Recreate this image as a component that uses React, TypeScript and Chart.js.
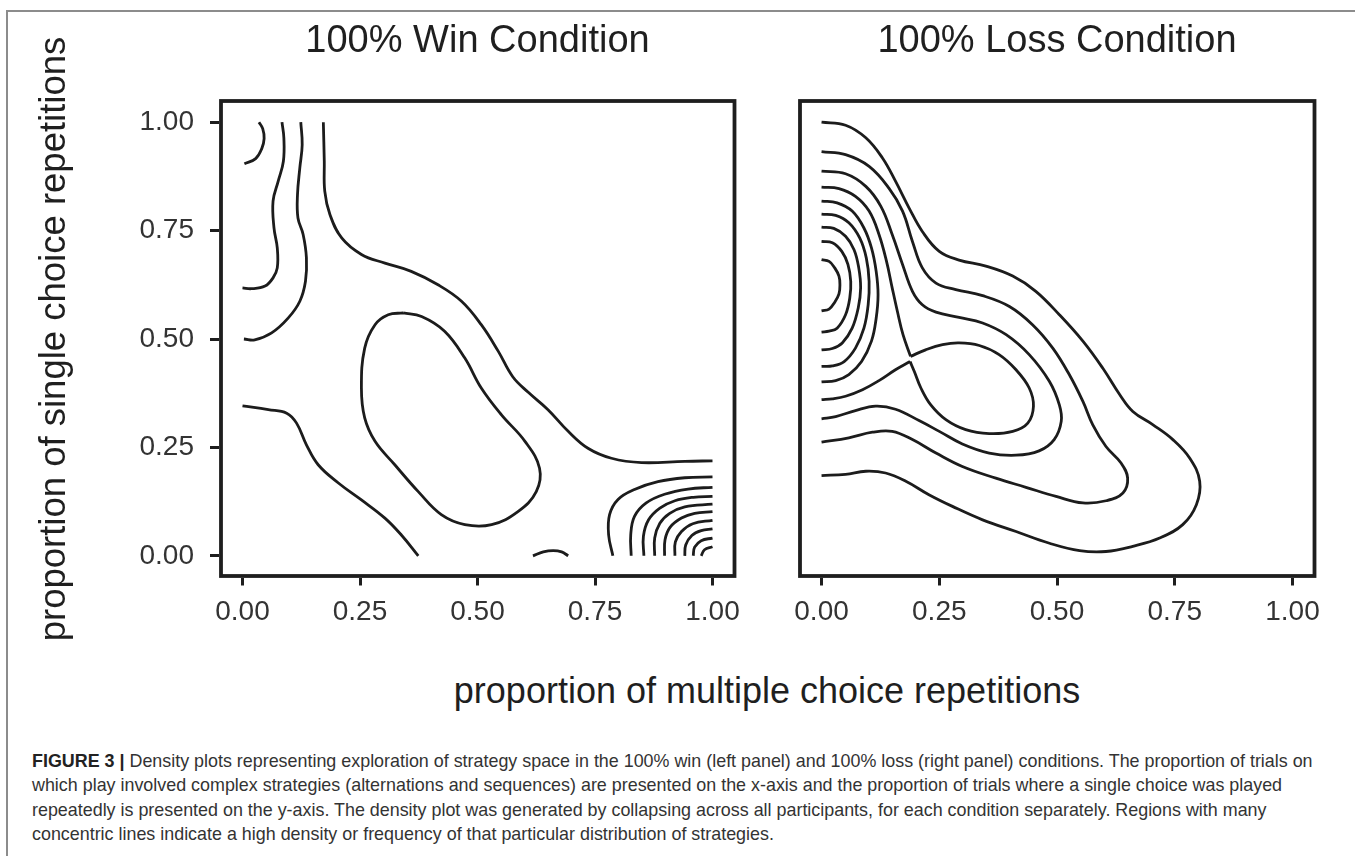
import React, { useEffect, useRef } from 'react';
import { Chart, registerables } from 'chart.js';

Chart.register(...registerables);

type Pt = [number, number];

const FONT = "'Liberation Sans', Arial, Helvetica, sans-serif";
const LINE_COLOR = '#1c1c1c';
const TITLE_COLOR = '#1f1f1f';
const TICK_COLOR = '#333333';
const AXIS_COLOR = '#1e1e1e';

// ---- axis ticks / texts ----
const tickValues = [0, 0.25, 0.5, 0.75, 1];
const tickLabels = ['0.00', '0.25', '0.50', '0.75', '1.00'];
const panelTitles = ['100% Win Condition', '100% Loss Condition'];
const xAxisTitle = 'proportion of multiple choice repetitions';
const yAxisTitle = 'proportion of single choice repetitions';
const captionBold = 'FIGURE 3 | ';
const captionLines = [
  'Density plots representing exploration of strategy space in the 100% win (left panel) and 100% loss (right panel) conditions. The proportion of trials on',
  'which play involved complex strategies (alternations and sequences) are presented on the x-axis and the proportion of trials where a single choice was played',
  'repeatedly is presented on the y-axis. The density plot was generated by collapsing across all participants, for each condition separately. Regions with many',
  'concentric lines indicate a high density or frequency of that particular distribution of strategies.',
];

// ---- 100% Win condition contours (x, y) ----
const win1: Pt[] = [[0.035, 1.0], [0.043, 0.985], [0.046, 0.962], [0.041, 0.939], [0.028, 0.916], [0.004, 0.904]];
const win2: Pt[] = [[0.084, 1.0], [0.088, 0.964], [0.087, 0.91], [0.076, 0.864], [0.065, 0.818], [0.067, 0.756], [0.074, 0.71], [0.074, 0.664], [0.065, 0.641], [0.048, 0.622], [0.019, 0.616], [0.0, 0.618]];
const win3: Pt[] = [[0.124, 1.0], [0.127, 0.948], [0.122, 0.895], [0.117, 0.833], [0.118, 0.779], [0.129, 0.741], [0.136, 0.687], [0.134, 0.633], [0.122, 0.587], [0.097, 0.548], [0.062, 0.514], [0.026, 0.498], [0.003, 0.5]];
const win4: Pt[] = [[0.172, 1.0], [0.174, 0.91], [0.175, 0.841], [0.186, 0.787], [0.211, 0.733], [0.253, 0.695], [0.303, 0.675], [0.359, 0.656], [0.416, 0.625], [0.466, 0.587], [0.508, 0.533], [0.544, 0.472], [0.575, 0.413], [0.608, 0.377], [0.65, 0.337], [0.693, 0.287], [0.735, 0.248], [0.785, 0.225], [0.849, 0.215], [0.941, 0.218], [1.0, 0.219]];
const win5: Pt[] = [[0.0, 0.346], [0.055, 0.337], [0.094, 0.329], [0.115, 0.306], [0.136, 0.256], [0.161, 0.21], [0.204, 0.168], [0.253, 0.129], [0.303, 0.087], [0.338, 0.048], [0.374, 0.0]];
const win6: Pt[] = [[0.342, 0.56], [0.381, 0.552], [0.43, 0.518], [0.473, 0.456], [0.508, 0.387], [0.551, 0.325], [0.601, 0.264], [0.632, 0.202], [0.625, 0.148], [0.586, 0.102], [0.53, 0.072], [0.473, 0.072], [0.423, 0.095], [0.374, 0.148], [0.324, 0.21], [0.282, 0.264], [0.26, 0.318], [0.253, 0.387], [0.26, 0.479], [0.282, 0.533], [0.31, 0.556], [0.342, 0.56]];
const win7: Pt[] = [[0.618, 0.0], [0.64, 0.009], [0.661, 0.012], [0.679, 0.009], [0.693, 0.0]];
const win8: Pt[] = [[0.788, 0.0], [0.779, 0.048], [0.781, 0.095], [0.799, 0.13], [0.834, 0.153], [0.884, 0.171], [0.941, 0.18], [1.0, 0.182]];
const win9: Pt[] = [[0.827, 0.0], [0.826, 0.048], [0.834, 0.091], [0.859, 0.122], [0.898, 0.142], [0.948, 0.154], [1.0, 0.158]];
const win10: Pt[] = [[0.854, 0.0], [0.853, 0.045], [0.864, 0.083], [0.888, 0.11], [0.92, 0.127], [0.959, 0.135], [1.0, 0.137]];
const win11: Pt[] = [[0.877, 0.0], [0.877, 0.041], [0.888, 0.075], [0.909, 0.098], [0.941, 0.113], [1.0, 0.119]];
const win12: Pt[] = [[0.898, 0.0], [0.899, 0.037], [0.91, 0.066], [0.934, 0.087], [0.962, 0.098], [1.0, 0.102]];
const win13: Pt[] = [[0.92, 0.0], [0.921, 0.032], [0.934, 0.056], [0.958, 0.074], [1.0, 0.082]];
const win14: Pt[] = [[0.941, 0.0], [0.943, 0.025], [0.956, 0.047], [0.976, 0.058], [1.0, 0.062]];
const win15: Pt[] = [[0.959, 0.0], [0.962, 0.02], [0.976, 0.035], [1.0, 0.041]];
const win16: Pt[] = [[0.976, 0.0], [0.983, 0.014], [1.0, 0.021]];

// ---- 100% Loss condition contours (x, y) ----
const loss1: Pt[] = [[0.0, 0.683], [0.016, 0.679], [0.028, 0.664], [0.037, 0.645], [0.039, 0.625], [0.037, 0.604], [0.028, 0.585], [0.016, 0.569], [0.0, 0.565]];
const loss2: Pt[] = [[0.0, 0.725], [0.023, 0.722], [0.043, 0.702], [0.056, 0.672], [0.062, 0.633], [0.06, 0.595], [0.051, 0.556], [0.033, 0.525], [0.016, 0.518], [0.0, 0.516]];
const loss3: Pt[] = [[0.0, 0.758], [0.026, 0.755], [0.051, 0.737], [0.069, 0.706], [0.079, 0.664], [0.083, 0.618], [0.078, 0.572], [0.065, 0.525], [0.044, 0.491], [0.023, 0.478], [0.0, 0.475]];
const loss4: Pt[] = [[0.0, 0.788], [0.03, 0.785], [0.058, 0.768], [0.081, 0.733], [0.095, 0.687], [0.101, 0.633], [0.099, 0.579], [0.09, 0.525], [0.072, 0.479], [0.048, 0.448], [0.023, 0.438], [0.0, 0.437]];
const loss5: Pt[] = [[0.0, 0.818], [0.033, 0.814], [0.065, 0.795], [0.09, 0.756], [0.106, 0.71], [0.116, 0.656], [0.12, 0.602], [0.116, 0.548], [0.106, 0.495], [0.085, 0.448], [0.058, 0.418], [0.03, 0.404], [0.0, 0.401]];
const loss6Upper: Pt[] = [[0.0, 0.85], [0.037, 0.847], [0.072, 0.829], [0.101, 0.795], [0.122, 0.741], [0.138, 0.679], [0.15, 0.618], [0.161, 0.564], [0.173, 0.51], [0.189, 0.46]];
const loss6Loop: Pt[] = [[0.189, 0.46], [0.221, 0.475], [0.257, 0.487], [0.292, 0.491], [0.335, 0.485], [0.377, 0.464], [0.413, 0.429], [0.441, 0.387], [0.45, 0.345], [0.438, 0.306], [0.406, 0.287], [0.356, 0.282], [0.306, 0.291], [0.264, 0.314], [0.232, 0.348], [0.211, 0.387], [0.197, 0.425], [0.188, 0.448]];
const loss6Lower: Pt[] = [[0.188, 0.448], [0.157, 0.429], [0.122, 0.404], [0.087, 0.383], [0.051, 0.368], [0.023, 0.362], [0.0, 0.36]];
const loss7: Pt[] = [[0.0, 0.887], [0.051, 0.881], [0.094, 0.852], [0.126, 0.806], [0.15, 0.741], [0.172, 0.672], [0.193, 0.61], [0.214, 0.579], [0.243, 0.562], [0.292, 0.55], [0.342, 0.537], [0.392, 0.51], [0.441, 0.464], [0.484, 0.402], [0.505, 0.348], [0.509, 0.31], [0.494, 0.268], [0.462, 0.242], [0.413, 0.232], [0.356, 0.237], [0.299, 0.258], [0.25, 0.287], [0.207, 0.312], [0.157, 0.338], [0.115, 0.345], [0.072, 0.335], [0.03, 0.321], [0.0, 0.316]];
const loss8: Pt[] = [[0.0, 0.932], [0.051, 0.925], [0.101, 0.898], [0.143, 0.848], [0.172, 0.795], [0.193, 0.725], [0.214, 0.664], [0.243, 0.629], [0.285, 0.614], [0.342, 0.6], [0.399, 0.575], [0.448, 0.533], [0.491, 0.479], [0.526, 0.418], [0.555, 0.356], [0.576, 0.302], [0.604, 0.252], [0.636, 0.214], [0.65, 0.179], [0.64, 0.145], [0.604, 0.127], [0.555, 0.122], [0.498, 0.137], [0.434, 0.158], [0.37, 0.179], [0.299, 0.206], [0.243, 0.237], [0.193, 0.268], [0.15, 0.287], [0.108, 0.285], [0.058, 0.272], [0.0, 0.262]];
const loss9: Pt[] = [[0.0, 1.0], [0.051, 0.993], [0.094, 0.964], [0.129, 0.918], [0.157, 0.864], [0.186, 0.802], [0.214, 0.748], [0.25, 0.702], [0.292, 0.682], [0.349, 0.668], [0.406, 0.645], [0.455, 0.61], [0.505, 0.556], [0.555, 0.495], [0.597, 0.433], [0.633, 0.372], [0.661, 0.333], [0.704, 0.302], [0.746, 0.268], [0.782, 0.225], [0.803, 0.172], [0.796, 0.118], [0.767, 0.072], [0.718, 0.041], [0.661, 0.022], [0.604, 0.01], [0.548, 0.012], [0.484, 0.029], [0.413, 0.056], [0.342, 0.083], [0.278, 0.114], [0.228, 0.141], [0.179, 0.172], [0.136, 0.191], [0.094, 0.195], [0.051, 0.188], [0.0, 0.185]];

const winContours: Pt[][] = [win1, win2, win3, win4, win5, win6, win7, win8, win9, win10, win11, win12, win13, win14, win15, win16];
const lossContours: Pt[][] = [loss1, loss2, loss3, loss4, loss5, loss6Upper, loss6Loop, loss6Lower, loss7, loss8, loss9];

const boxPlugin = {
  id: 'panelBox',
  afterDatasetsDraw(chart: any) {
    const { ctx, chartArea: a } = chart;
    ctx.save();
    ctx.lineWidth = 3.8;
    ctx.strokeStyle = AXIS_COLOR;
    ctx.strokeRect(a.left + 2, a.top + 0.5, a.right - a.left - 3.5, a.bottom - a.top - 2);
    ctx.restore();
  },
};

const setTicks = (s: any) => {
  s.ticks = tickValues.map((v) => ({ value: v }));
};
const labelFor = (v: any) => {
  const i = tickValues.indexOf(Number(v));
  return i >= 0 ? tickLabels[i] : '';
};

function makeConfig(contours: Pt[][], title: string, showY: boolean, padLeft: number): any {
  const tickGrid = {
    display: true,
    drawOnChartArea: false,
    drawTicks: true,
    tickLength: 8,
    tickWidth: 3,
    tickColor: AXIS_COLOR,
  };
  return {
    type: 'scatter',
    data: {
      datasets: contours.map((c) => ({
        data: c.map(([x, y]) => ({ x, y })),
        showLine: true,
        borderColor: LINE_COLOR,
        borderWidth: 2.8,
        pointRadius: 0,
        pointHoverRadius: 0,
        tension: 0.4,
        fill: false,
      })),
    },
    options: {
      responsive: false,
      animation: false,
      devicePixelRatio: 1,
      layout: { padding: { left: padLeft, right: 24, top: 0, bottom: 0 } },
      plugins: {
        legend: { display: false },
        tooltip: { enabled: false },
        title: {
          display: true,
          text: title,
          fullSize: false,
          color: TITLE_COLOR,
          font: { family: FONT, size: 38, weight: 'normal', lineHeight: 1.2 },
          padding: { top: 18.5, bottom: 36.4 },
        },
      },
      scales: {
        x: {
          type: 'linear',
          min: -0.05,
          max: 1.05,
          afterBuildTicks: setTicks,
          afterFit: (s: any) => {
            s.height = 82.5;
          },
          ticks: {
            callback: labelFor,
            font: { family: FONT, size: 28 },
            color: TICK_COLOR,
            padding: 10.2,
            maxRotation: 0,
            autoSkip: false,
          },
          grid: tickGrid,
          border: { display: false },
        },
        y: showY
          ? {
              type: 'linear',
              min: -0.05,
              max: 1.05,
              afterBuildTicks: setTicks,
              afterFit: (s: any) => {
                s.width = 219;
              },
              ticks: {
                callback: labelFor,
                font: { family: FONT, size: 28 },
                color: TICK_COLOR,
                padding: 16,
                autoSkip: false,
              },
              grid: { ...tickGrid, tickLength: 9 },
              border: { display: false },
              title: {
                display: true,
                text: yAxisTitle,
                color: TITLE_COLOR,
                font: { family: FONT, size: 36.5, lineHeight: 1.2 },
                padding: { top: 33, bottom: 0 },
              },
            }
          : { type: 'linear', min: -0.05, max: 1.05, display: false },
      },
    },
    plugins: [boxPlugin],
  };
}

function Panel(props: { contours: Pt[][]; title: string; showY: boolean; left: number; width: number; padLeft: number }) {
  const ref = useRef<HTMLCanvasElement>(null);
  useEffect(() => {
    const chart = new Chart(ref.current as HTMLCanvasElement, makeConfig(props.contours, props.title, props.showY, props.padLeft));
    return () => chart.destroy();
  }, []);
  return (
    <canvas
      ref={ref}
      width={props.width}
      height={660}
      style={{ position: 'absolute', left: props.left, top: 0, width: props.width, height: 660 }}
    />
  );
}

export default function App() {
  return (
    <div
      style={{
        position: 'fixed',
        left: 0,
        top: 0,
        width: 1355,
        height: 856,
        overflow: 'hidden',
        background: '#ffffff',
        fontFamily: FONT,
      }}
    >
      <div
        style={{
          position: 'absolute',
          left: 6,
          top: 10,
          width: 2000,
          height: 2000,
          borderTop: '2px solid #8c8c8c',
          borderLeft: '2px solid #8c8c8c',
        }}
      />
      <Panel contours={winContours} title={panelTitles[0]} showY={true} left={0} width={760} padLeft={0} />
      <Panel contours={lossContours} title={panelTitles[1]} showY={false} left={760} width={580} padLeft={38} />
      <div
        style={{
          position: 'absolute',
          left: 767,
          top: 672.5,
          transform: 'translateX(-50%)',
          whiteSpace: 'nowrap',
          fontSize: 36,
          lineHeight: '36px',
          color: TITLE_COLOR,
        }}
      >
        {xAxisTitle}
      </div>
      <div
        style={{
          position: 'absolute',
          left: 32,
          top: 749,
          fontSize: 17.9,
          lineHeight: '24.3px',
          color: '#333333',
          whiteSpace: 'nowrap',
        }}
      >
        {captionLines.map((line, i) => (
          <div key={i}>
            {i === 0 && <b style={{ color: '#222222' }}>{captionBold}</b>}
            {line}
          </div>
        ))}
      </div>
    </div>
  );
}
